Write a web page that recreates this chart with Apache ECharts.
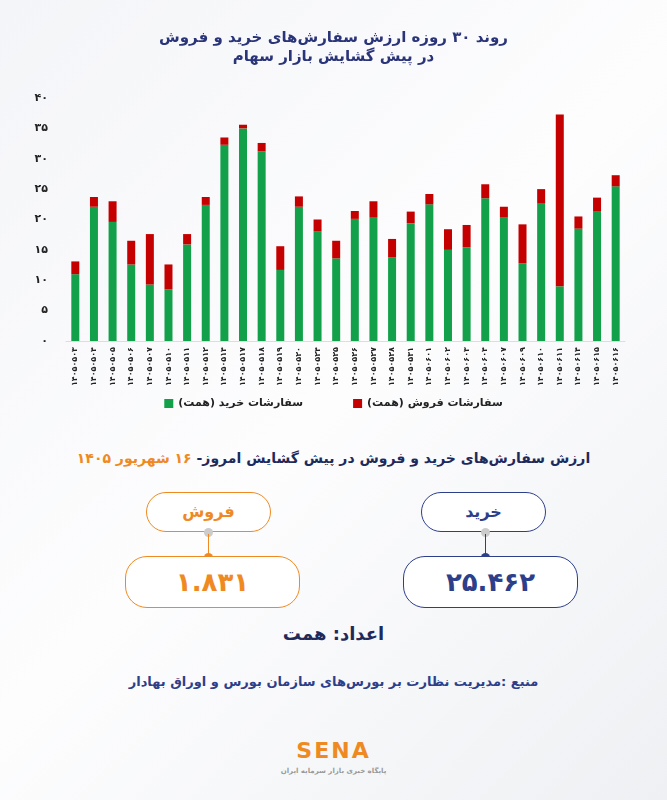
<!DOCTYPE html>
<html lang="fa">
<head>
<meta charset="utf-8">
<title>روند ۳۰ روزه ارزش سفارش‌های خرید و فروش</title>
<script src="https://cdn.jsdelivr.net/npm/echarts@6/dist/echarts.min.js"></script>
<style>
  body { margin: 0; width: 667px; height: 800px; background: linear-gradient(135deg, #f4f5f8, #fdfdfe 50%, #eef0f3); font-family: "DejaVu Sans", sans-serif; position: relative; overflow: hidden; }
  #main { position: absolute; left: 0; top: 0; width: 667px; height: 420px; }
  .abs { position: absolute; direction: rtl; text-align: center; font-weight: bold; }
  .pill { position: absolute; border-radius: 22px; box-sizing: border-box; text-align: center; font-weight: bold; background: #fff; }
  .line { position: absolute; width: 1px; }
  .dot { position: absolute; width: 9px; height: 9px; border-radius: 50%; }
</style>
</head>
<body>
<div id="main"></div>

<div class="abs" style="left:0;width:667px;top:450px;font-size:14px;color:#1f2a5c;">ارزش سفارش‌های خرید و فروش در پیش گشایش امروز- <span style="color:#ef8a22">۱۶ شهریور ۱۴۰۵</span></div>

<div class="pill" style="left:146px;top:492px;width:125px;height:40px;border:1.5px solid #ef8a22;color:#ef8a22;font-size:16px;line-height:37px;">فروش</div>
<div class="dot" style="left:204px;top:528px;background:#ccc;"></div>
<div class="line" style="left:208px;top:534px;height:22px;background:#ef8a22;"></div>
<div class="dot" style="left:204px;top:553px;background:#ef8a22;"></div>
<div class="pill" style="left:125px;top:556px;width:175px;height:52px;border:1.5px solid #ef8a22;color:#ef8a22;font-size:26px;line-height:50px;">۱.۸۳۱</div>

<div class="pill" style="left:421px;top:492px;width:125px;height:40px;border:1.5px solid #2d3f8a;color:#2d3f8a;font-size:16px;line-height:37px;">خرید</div>
<div class="dot" style="left:481px;top:528px;background:#ccc;"></div>
<div class="line" style="left:485px;top:534px;height:22px;background:#2d3f8a;"></div>
<div class="dot" style="left:481px;top:553px;background:#2d3f8a;"></div>
<div class="pill" style="left:403px;top:556px;width:175px;height:52px;border:1.5px solid #2d3f8a;color:#2d3f8a;font-size:26px;line-height:50px;">۲۵.۴۶۲</div>

<div class="abs" style="left:0;width:667px;top:623px;font-size:18px;color:#1f2a5c;">اعداد: همت</div>
<div class="abs" style="left:0;width:667px;top:674px;font-size:13px;color:#2d3f8a;">منبع :مدیریت نظارت بر بورس‌های سازمان بورس و اوراق بهادار</div>
<div class="abs" style="left:0;width:667px;top:738px;font-size:22px;color:#ef8a22;direction:ltr;letter-spacing:2px;">SENA</div>
<div class="abs" style="left:0;width:667px;top:767px;font-size:7px;color:#999;">پایگاه خبری بازار سرمایه ایران</div>

<script>
  // تاریخ‌ها
  var categories = ['۱۴۰۵۰۵۰۳', '۱۴۰۵۰۵۰۴', '۱۴۰۵۰۵۰۵', '۱۴۰۵۰۵۰۶', '۱۴۰۵۰۵۰۷', '۱۴۰۵۰۵۱۰', '۱۴۰۵۰۵۱۱', '۱۴۰۵۰۵۱۲', '۱۴۰۵۰۵۱۴', '۱۴۰۵۰۵۱۷',
    '۱۴۰۵۰۵۱۸', '۱۴۰۵۰۵۱۹', '۱۴۰۵۰۵۲۰', '۱۴۰۵۰۵۲۴', '۱۴۰۵۰۵۲۵', '۱۴۰۵۰۵۲۶', '۱۴۰۵۰۵۲۷', '۱۴۰۵۰۵۲۸', '۱۴۰۵۰۵۳۱', '۱۴۰۵۰۶۰۱',
    '۱۴۰۵۰۶۰۲', '۱۴۰۵۰۶۰۳', '۱۴۰۵۰۶۰۴', '۱۴۰۵۰۶۰۷', '۱۴۰۵۰۶۰۹', '۱۴۰۵۰۶۱۰', '۱۴۰۵۰۶۱۱', '۱۴۰۵۰۶۱۴', '۱۴۰۵۰۶۱۵', '۱۴۰۵۰۶۱۶'];
  // سفارشات خرید (همت)
  var buyValues = [11.0, 22.1, 19.6, 12.6, 9.3, 8.5, 15.9, 22.4, 32.3, 35.0,
    31.2, 11.7, 22.1, 18.0, 13.6, 20.1, 20.4, 13.8, 19.4, 22.5,
    15.0, 15.4, 23.5, 20.3, 12.8, 22.6, 9.0, 18.5, 21.3, 25.46];
  // سفارشات فروش (همت)
  var sellValues = [2.1, 1.6, 3.4, 3.9, 8.3, 4.1, 1.7, 1.3, 1.2, 0.6,
    1.4, 3.9, 1.7, 2.0, 2.9, 1.3, 2.6, 3.0, 1.9, 1.7,
    3.4, 3.7, 2.3, 1.8, 6.4, 2.4, 28.3, 2.0, 2.3, 1.83];
  var yTicks = ['۰', '۵', '۱۰', '۱۵', '۲۰', '۲۵', '۳۰', '۳۵', '۴۰'];

  var myChart = echarts.init(document.getElementById('main'));
  var option = {
    textStyle: { fontFamily: 'DejaVu Sans' },
    title: {
      text: 'روند ۳۰ روزه ارزش سفارش‌های خرید و فروش\nدر پیش گشایش بازار سهام',
      left: 'center', top: 24,
      textStyle: { fontSize: 15, fontWeight: 'bold', color: '#2a3478', lineHeight: 19 }
    },
    legend: {
      bottom: 6, left: 'center', itemGap: 50, itemWidth: 9, itemHeight: 9, icon: 'rect',
      data: ['سفارشات خرید (همت)', 'سفارشات فروش (همت)'],
      textStyle: { fontSize: 11, fontWeight: 'bold', color: '#222' }
    },
    grid: { left: 66, right: 42, top: 98, bottom: 79 },
    xAxis: {
      type: 'category', data: categories,
      axisLine: { lineStyle: { color: '#ddd' } }, axisTick: { show: false },
      axisLabel: { rotate: 90, interval: 0, fontSize: 8, fontWeight: 'bold', color: '#222', margin: 6 }
    },
    yAxis: {
      type: 'value', min: 0, max: 40, interval: 5,
      splitLine: { show: false },
      axisLabel: { fontSize: 11, fontWeight: 'bold', color: '#222', margin: 18,
        formatter: function (v) { return yTicks[v / 5]; } }
    },
    series: [
      { name: 'سفارشات خرید (همت)', type: 'bar', stack: 'a', barWidth: 8, data: buyValues, itemStyle: { color: '#12a04a' } },
      { name: 'سفارشات فروش (همت)', type: 'bar', stack: 'a', barWidth: 8, data: sellValues, itemStyle: { color: '#c40000' } }
    ]
  };
  myChart.setOption(option);
</script>
</body>
</html>
